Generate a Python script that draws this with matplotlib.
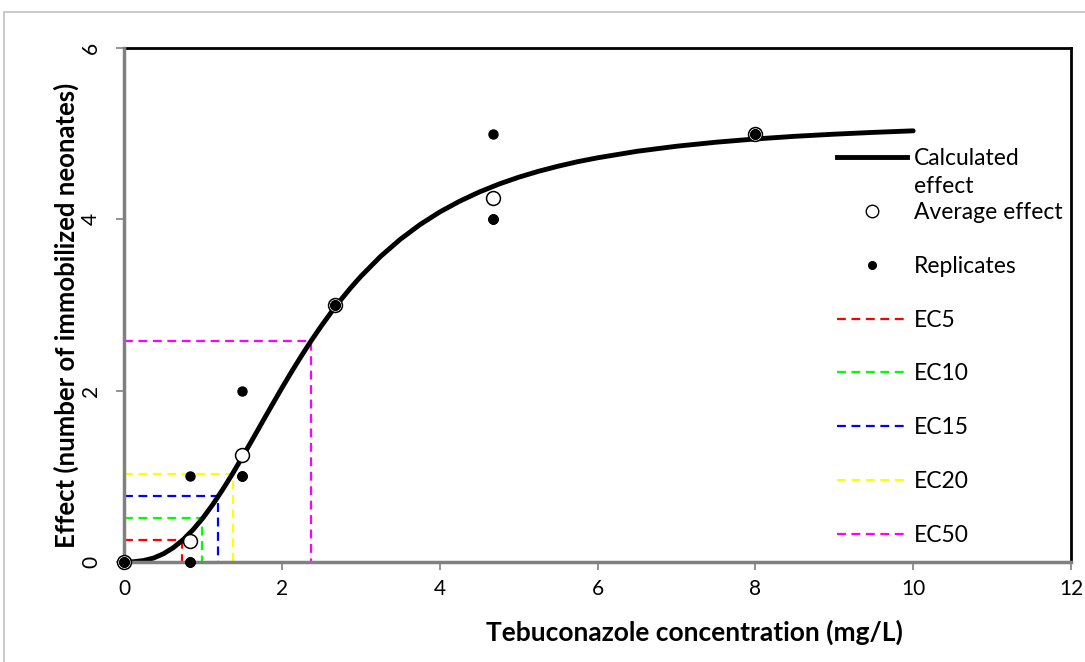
import matplotlib
matplotlib.use('Agg')
import matplotlib.pyplot as plt
from matplotlib.lines import Line2D
from matplotlib.patches import Rectangle

plt.rcParams['font.family'] = ['Lato', 'DejaVu Sans']

# measured data
conc_avg = [0, 0.83, 1.5, 2.67, 4.67, 8.0]
effect_avg = [0, 0.25, 1.25, 3.0, 4.25, 5.0]
conc_rep = [0, 0, 0, 0, 0.83, 0.83, 0.83, 0.83, 1.5, 1.5, 1.5, 1.5,
            2.67, 2.67, 2.67, 2.67, 4.67, 4.67, 4.67, 4.67, 8.0, 8.0, 8.0, 8.0]
effect_rep = [0, 0, 0, 0, 0, 0, 0, 1, 1, 1, 1, 2,
              3, 3, 3, 3, 4, 4, 4, 5, 5, 5, 5, 5]

# calculated effect curve
curve_x = [0, 0.125, 0.25, 0.375, 0.5, 0.625, 0.75, 0.875, 1.0, 1.125, 1.25, 1.375,
           1.5, 1.625, 1.75, 1.875, 2.0, 2.125, 2.25, 2.375, 2.5, 2.625, 2.75, 2.875,
           3.0, 3.25, 3.5, 3.75, 4.0, 4.25, 4.5, 4.75, 5.0, 5.25, 5.5, 5.75, 6.0,
           6.5, 7.0, 7.5, 8.0, 8.5, 9.0, 9.5, 10.0]
curve_y = [0, 0.003, 0.017, 0.046, 0.096, 0.167, 0.261, 0.377, 0.514, 0.671, 0.845, 1.030,
           1.226, 1.426, 1.629, 1.831, 2.030, 2.223, 2.409, 2.587, 2.755, 2.914, 3.063, 3.203,
           3.333, 3.566, 3.766, 3.938, 4.085, 4.210, 4.318, 4.411, 4.491, 4.560, 4.620, 4.673, 4.718,
           4.794, 4.853, 4.900, 4.938, 4.969, 4.994, 5.015, 5.033]

# effect concentrations
ec_labels = ['EC5', 'EC10', 'EC15', 'EC20', 'EC50']
ec_conc = [0.735, 0.99, 1.19, 1.38, 2.37]
ec_effect = [0.258, 0.516, 0.774, 1.032, 2.58]
ec_colors = ['#ff0000', '#00ff00', '#0000ff', '#ffff00', '#ff00ff']

fig = plt.figure(figsize=(10.85, 6.62), dpi=100)
ax = fig.add_axes([0.1143, 0.1511, 0.8728, 0.7764])

# frame around the whole chart
fig.patches.append(Rectangle((0.0037, -0.2), 1.2, 1.182, transform=fig.transFigure,
                             fill=False, edgecolor='#c0c0c0', lw=1.2, clip_on=False))

for i in range(len(ec_labels)):
    ax.plot([0, ec_conc[i], ec_conc[i]], [ec_effect[i], ec_effect[i], 0],
            color=ec_colors[i], lw=1.6, dashes=(4, 2.5), zorder=2)

ax.plot(curve_x, curve_y, color='black', lw=3.5, solid_capstyle='round',
        solid_joinstyle='round', zorder=3)
ax.plot(conc_avg, effect_avg, 'o', ms=10, mfc='white', mec='black', mew=1.1,
        zorder=7, clip_on=False)
ax.plot(conc_rep, effect_rep, 'o', ms=6.5, color='black', zorder=8, clip_on=False)

ax.set_xlim(0, 12)
ax.set_ylim(0, 6)
ax.set_xticks(range(0, 13, 2))
ax.set_yticks(range(0, 7, 2))
ax.tick_params(labelsize=15, color='#808080', length=5.5, width=1.2)
ax.tick_params(axis='x', pad=7)
ax.tick_params(axis='y', pad=11)
for lab in ax.get_yticklabels():
    lab.set_rotation(90)
    lab.set_va('center')

for s in ['top', 'right']:
    ax.spines[s].set_color('black')
    ax.spines[s].set_linewidth(2)
for s in ['left', 'bottom']:
    ax.spines[s].set_color('#808080')
    ax.spines[s].set_linewidth(2.5)
    ax.spines[s].set_zorder(6)

ax.set_xlabel('Tebuconazole concentration (mg/L)', fontsize=19, fontweight='bold', va='top')
ax.xaxis.set_label_coords(0.602, -0.1128)
ax.set_ylabel('Effect (number of immobilized neonates)', fontsize=18.5, fontweight='bold',
              va='center')
ax.yaxis.set_label_coords(-0.061, 0.4805)

handles = [Line2D([], [], color='black', lw=3.5),
           Line2D([], [], ls='none', marker='o', ms=9, mfc='white', mec='black'),
           Line2D([], [], ls='none', marker='o', ms=5.5, color='black')]
for c in ec_colors:
    handles.append(Line2D([], [], color=c, lw=1.6, dashes=(4, 2.5)))
labels = ['Calculated', 'Average effect', 'Replicates'] + ec_labels
leg = ax.legend(handles, labels, loc='upper left', bbox_to_anchor=(0.753, 0.805),
                frameon=False, fontsize=16.5, labelspacing=1.43, handlelength=3.06,
                handletextpad=0.3, borderpad=0, borderaxespad=0)

# second line of the first legend label, as in the original wrapped text
fig.canvas.draw()
bb = leg.get_texts()[0].get_window_extent()
fig.text(bb.x0 / fig.dpi / 10.85, (bb.y0 - 28) / fig.dpi / 6.62, 'effect',
         fontsize=16.5, va='bottom', ha='left')

fig.savefig('out.png', dpi=100)
